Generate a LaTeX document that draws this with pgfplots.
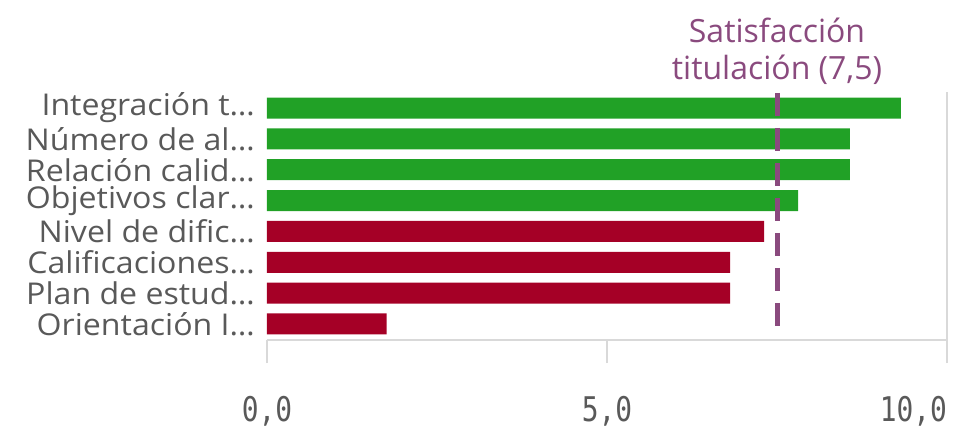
\documentclass[border=0pt]{standalone}
\usepackage{pgfplots}
\pgfplotsset{compat=1.18}
\usepackage{fontspec}
\setmainfont{Open Sans}
\newfontfamily\labelfont{Open Sans}[FakeStretch=1.07]
\setmonofont{DejaVu Sans Mono}[FakeStretch=0.82]
\definecolor{bargreen}{HTML}{21A126}
\definecolor{barred}{HTML}{A50026}
\definecolor{refpurple}{HTML}{8A4A7E}
\definecolor{labelgray}{HTML}{595959}
\definecolor{axisgray}{HTML}{D9D9D9}
\begin{document}
\begin{tikzpicture}
\useasboundingbox (0,0) rectangle (969pt,429pt);
\begin{axis}[
  at={(267pt,89pt)}, anchor=south west,
  scale only axis, width=680pt, height=248pt,
  xmin=0, xmax=10, ymin=-0.52, ymax=7.52, y dir=reverse,
  bar width=21pt, bar shift=0pt,
  axis line style={draw=none},
  xtick={0,5,10}, xticklabels={{0,0},{5,0},{\makebox[0pt][r]{10,0}}},
  xtick pos=bottom, tick align=outside, major tick length=23pt,
  xtick style={draw=axisgray, line width=1.5pt},
  xticklabel style={font=\ttfamily\fontsize{34}{34}\selectfont, text=labelgray, yshift=-30pt},
  ytick={0,...,7},
  yticklabels={Integración t…,Número de al…,Relación calid…,Objetivos clar…,Nivel de dific…,Calificaciones…,Plan de estud…,Orientación I…},
  ytick style={draw=none},
  yticklabel style={font=\labelfont\fontsize{30}{30}\selectfont, text=labelgray, inner sep=0pt, xshift=11pt},
  clip=false,
]
\draw[axisgray, line width=1.5pt] (axis cs:0,7.52) -- (axis cs:10,7.52) -- (axis cs:10,-0.52);
\addplot[xbar, fill=bargreen, draw=none] coordinates {(9.32,0) (8.57,1) (8.57,2) (7.81,3)};
\addplot[xbar, fill=barred, draw=none] coordinates {(7.31,4) (6.81,5) (6.81,6) (1.76,7)};
\addplot[refpurple, line width=5pt, dash pattern=on 23pt off 12pt, forget plot] coordinates {(7.5,-0.49) (7.5,7.1)};
\node[refpurple, align=center, anchor=south, font=\fontsize{32}{37}\selectfont, yshift=4pt] at (axis cs:7.5,-0.52) {Satisfacción\\titulación (7,5)};
\end{axis}
\end{tikzpicture}
\end{document}
